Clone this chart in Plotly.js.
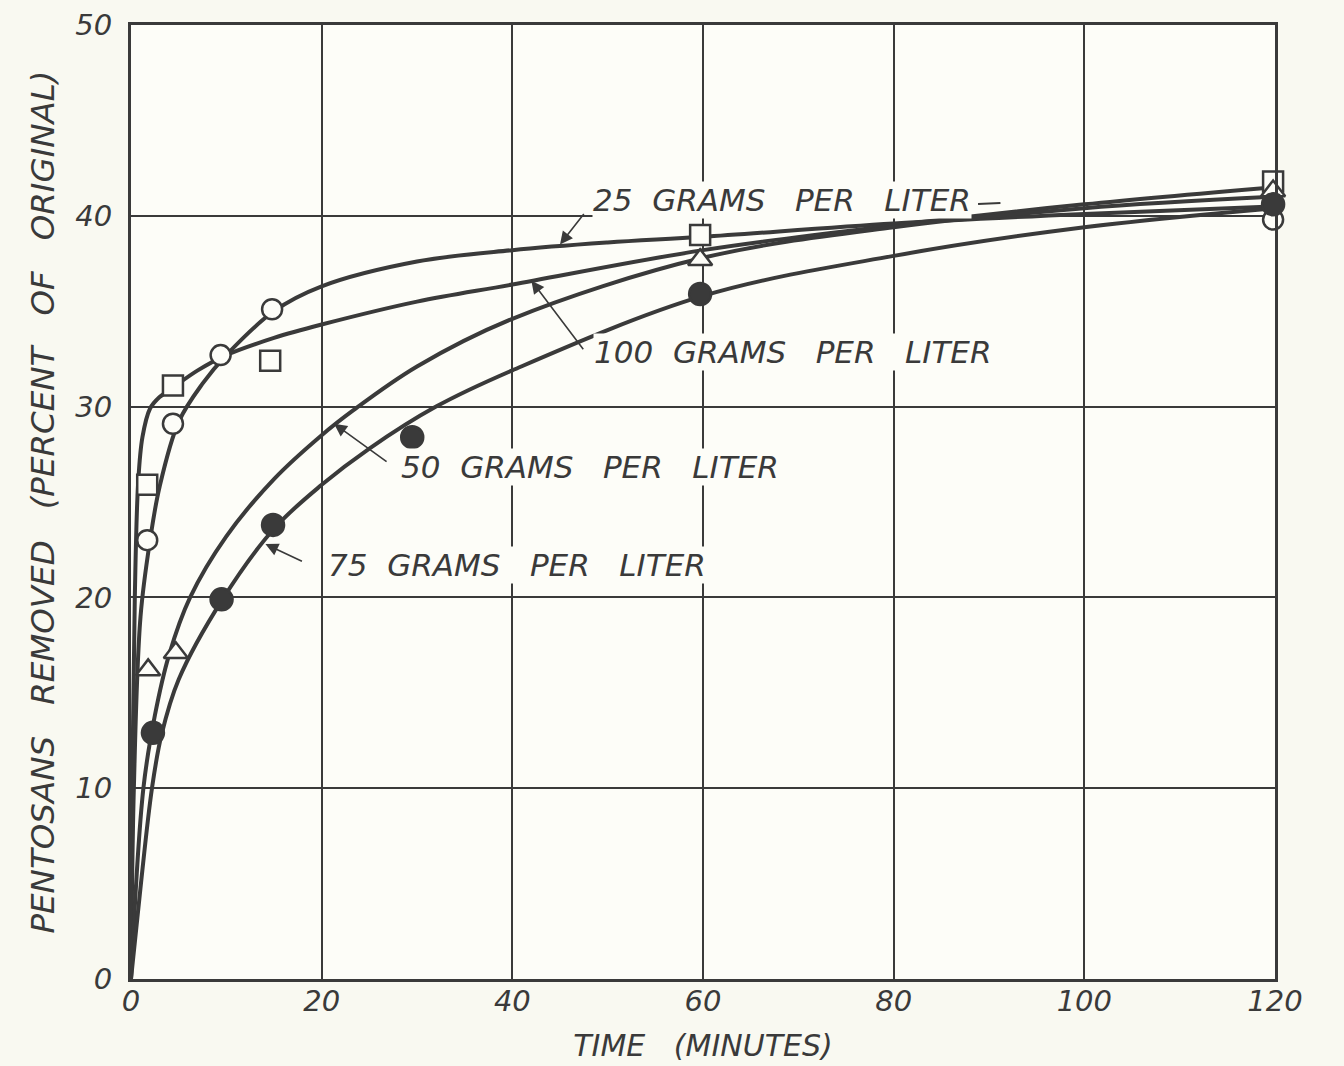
<!DOCTYPE html>
<html>
<head>
<meta charset="utf-8">
<script src="https://cdn.plot.ly/plotly-3.0.1.min.js"></script>
<style>html,body{margin:0;padding:0;background:#f9f9f1;}</style>
</head>
<body>
<div id="chart" style="width:1344px;height:1066px;"></div>
<script>
// ---- Fitted curves ----
const curve25X  = [0, 0.3, 1, 2, 3, 5, 7.5, 10, 15, 20, 30, 40, 50, 60, 80, 100, 120];
const curve25Y  = [0, 10, 19, 23, 25.8, 29.2, 31.2, 32.7, 35, 36.3, 37.6, 38.2, 38.6, 38.9, 39.6, 40.1, 40.5];
const curve100X = [0, 0.15, 0.4, 0.75, 1.2, 2, 3, 4.4, 7, 10, 15, 20, 30, 40, 60, 80, 100, 120];
const curve100Y = [0, 10, 20, 26, 28.4, 29.9, 30.5, 31.0, 31.9, 32.7, 33.6, 34.3, 35.5, 36.4, 38.2, 39.5, 40.6, 41.5];
const curve50X  = [0, 1.3, 2.5, 4, 6.2, 10, 15, 20, 23.3, 30, 40, 60, 80, 100, 120];
const curve50Y  = [0, 10, 13.8, 17, 20, 23.2, 26.2, 28.5, 29.8, 32.1, 34.6, 37.8, 39.4, 40.4, 41.0];
const curve75X  = [0, 1, 2.2, 3.2, 5, 9.6, 15, 20, 25, 32, 40, 60, 80, 100, 120];
const curve75Y  = [0, 4.8, 10, 12.8, 15.7, 19.9, 23.6, 25.9, 27.8, 30, 31.9, 35.8, 37.9, 39.4, 40.4];

// ---- Measured points ----
const openCircleX = [1.7, 4.4, 9.4, 14.8, 119.8];
const openCircleY = [23.0, 29.1, 32.7, 35.1, 39.8];
const squareX     = [1.7, 4.4, 14.6, 59.7, 119.8];
const squareY     = [25.9, 31.1, 32.4, 39.0, 41.8];
const triangleX   = [1.8, 4.7, 59.7, 119.8];
const triangleY   = [16.2, 17.1, 37.7, 41.3];
const filledX     = [2.3, 9.5, 14.9, 29.5, 59.7, 119.8];
const filledY     = [12.9, 19.9, 23.8, 28.4, 35.9, 40.6];

// ---- Tick labels ----
const xTicks = [0, 20, 40, 60, 80, 100, 120];
const yTicks = [0, 10, 20, 30, 40, 50];

const INK = '#3a3a3a';
const PLOTBG = '#fdfdf8';
const FONT = 'DejaVu Sans';
const sp = '\u00a0';

function curve(x, y) {
  return {x: x, y: y, type: 'scatter', mode: 'lines',
          line: {color: INK, width: 4, shape: 'spline', smoothing: 1.0},
          hoverinfo: 'skip', showlegend: false, cliponaxis: false};
}
function pts(x, y, symbol, filled, size) {
  return {x: x, y: y, type: 'scatter', mode: 'markers', showlegend: false, cliponaxis: false,
          marker: {symbol: symbol, size: size, color: filled ? INK : PLOTBG,
                   line: {color: INK, width: 2.5}}};
}

const data = [
  curve(curve25X, curve25Y),
  curve(curve100X, curve100Y),
  curve(curve50X, curve50Y),
  curve(curve75X, curve75Y),
  pts(openCircleX, openCircleY, 'circle', false, 20),
  pts(squareX, squareY, 'square', false, 20),
  pts(triangleX, triangleY, 'triangle-up', false, 21),
  pts(filledX, filledY, 'circle', true, 22)
];

const labelFont = {family: FONT, size: 31, color: INK, style: 'italic'};
function label(x, y, txt) {
  return {x: x, y: y, xref: 'x', yref: 'y', text: txt, showarrow: false,
          font: labelFont, bgcolor: PLOTBG, borderpad: 0};
}
function arrow(x, y, ax, ay) {
  return {x: x, y: y, xref: 'x', yref: 'y', text: '', showarrow: true,
          ax: ax, ay: ay, arrowhead: 2, arrowsize: 1.6, arrowwidth: 1.6, arrowcolor: INK};
}
const gap = sp + sp + ' ';

const layout = {
  width: 1344, height: 1066,
  margin: {l: 131, r: 69, t: 25, b: 87},
  paper_bgcolor: '#f9f9f1',
  plot_bgcolor: PLOTBG,
  showlegend: false,
  xaxis: {
    range: [0, 120], tickvals: xTicks, ticktext: xTicks.map(String),
    showgrid: true, gridcolor: INK, gridwidth: 2,
    showline: true, linecolor: INK, linewidth: 3, mirror: true,
    zeroline: false, ticks: '', ticklabelstandoff: -6,
    tickfont: {family: FONT, size: 29, color: INK, style: 'italic'},
    title: {text: 'TIME' + sp + sp + sp + '(MINUTES)', standoff: 19,
            font: {family: FONT, size: 30, color: INK, style: 'italic'}}
  },
  yaxis: {
    range: [0, 50], tickvals: yTicks, ticktext: yTicks.map(String),
    showgrid: true, gridcolor: INK, gridwidth: 2,
    showline: true, linecolor: INK, linewidth: 3, mirror: true,
    zeroline: false, ticks: '', ticklabelstandoff: 10,
    tickfont: {family: FONT, size: 29, color: INK, style: 'italic'},
    title: {text: 'PENTOSANS' + gap + 'REMOVED' + gap + '(PERCENT' + gap + 'OF' + gap + 'ORIGINAL)',
            standoff: 11,
            font: {family: FONT, size: 32.5, color: INK, style: 'italic'}}
  },
  annotations: [
    label(68.3, 40.83, '25' + sp + ' GRAMS' + sp + sp + ' PER' + sp + sp + ' LITER'),
    label(69.4, 32.86, '100' + sp + ' GRAMS' + sp + sp + ' PER' + sp + sp + ' LITER'),
    label(48.15, 26.83, '50' + sp + ' GRAMS' + sp + sp + ' PER' + sp + sp + ' LITER'),
    label(40.5, 21.7, '75' + sp + ' GRAMS' + sp + sp + ' PER' + sp + sp + ' LITER'),
    arrow(45, 38.5, 25, -32),
    arrow(42, 36.6, 53, 70),
    arrow(21.3, 29.1, 54, 39),
    arrow(14.1, 22.8, 38, 18)
  ],
  shapes: [
    {type: 'line', xref: 'x', yref: 'y', x0: 88.85, y0: 40.62, x1: 91.2, y1: 40.67,
     line: {color: INK, width: 2}}
  ]
};

Plotly.newPlot('chart', data, layout, {displayModeBar: false, staticPlot: true});
</script>
</body>
</html>
